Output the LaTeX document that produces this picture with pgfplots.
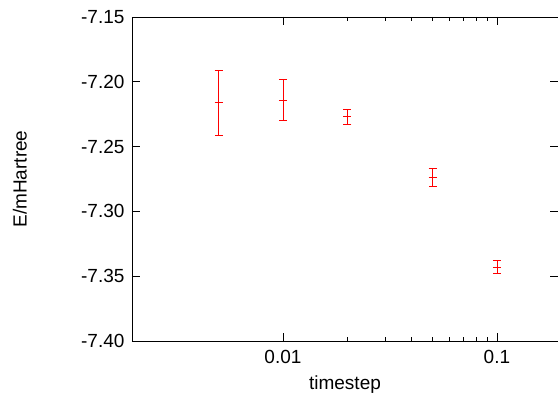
\documentclass[border=0pt]{standalone}
\usepackage{pgfplots}
\pgfplotsset{compat=1.18}
\usepackage{fontspec}
\setmainfont{Liberation Sans}
\begin{document}
\begin{tikzpicture}
\begin{axis}[name=ax,
  scale only axis, width=426pt, height=324pt,
  xmode=log, xmin=0.00197, xmax=0.193,
  ymin=-7.40, ymax=-7.15,
  ytick={-7.40,-7.35,-7.30,-7.25,-7.20,-7.15},
  yticklabel style={xshift=-4pt,/pgf/number format/.cd,fixed,fixed zerofill,precision=2},
  xtick={0.01,0.1}, xticklabels={0.01,0.1},
  /pgf/number format/assume math mode=true,
  tick align=inside, major tick length=8pt, minor tick length=4pt,
  tick style={black, line width=0.7pt},
  ticklabel style={font=\fontsize{19}{21}\selectfont},
  xticklabel style={yshift=-6pt},
  label style={font=\fontsize{19}{21}\selectfont},
  xlabel={timestep}, ylabel={E/mHartree},
  xlabel style={at={(axis description cs:0.5,-0.135)}, anchor=center},
  ylabel style={at={(axis description cs:-0.263,0.5)}, anchor=center},
  axis line style={line width=0.7pt},
]
\addplot[draw=red, color=red, line width=0.8pt, only marks, mark=+, mark size=4pt,
  mark options={draw=red},
  error bars/.cd, y dir=both, y explicit,
  error bar style={draw=red, line width=0.8pt},
  error mark options={draw=red, line width=0.8pt, mark size=4pt, rotate=90}]
  coordinates {
  (0.005,-7.216) +- (0,0.025)
  (0.01,-7.214) +- (0,0.016)
  (0.02,-7.227) +- (0,0.006)
  (0.05,-7.274) +- (0,0.007)
  (0.1,-7.343) +- (0,0.005)
};
\end{axis}
\pgfresetboundingbox
\path ([xshift=-132pt,yshift=-71pt]ax.south west) rectangle ([yshift=17pt]ax.north east);
\end{tikzpicture}
\end{document}
